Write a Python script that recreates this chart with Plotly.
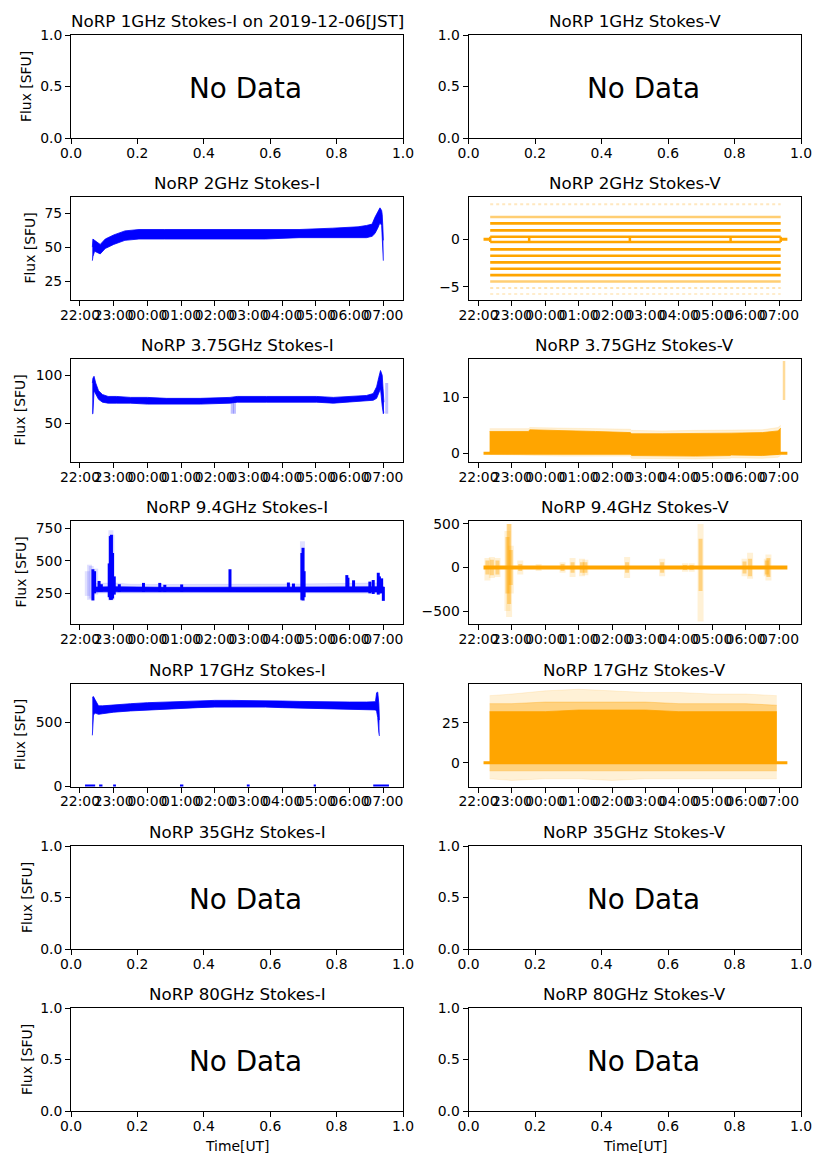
import plotly.graph_objects as go

# page is shown with the browser's default 8px body margin -> lay out in page pixels
PAGE_W, PAGE_H = 827, 1169
OFF = 8
FW, FH = PAGE_W - 2 * OFF, PAGE_H - 2 * OFF
FONT = "DejaVu Sans"
BLUE = "#0000ff"
BLUE_L = "rgba(0,0,255,0.25)"
BLUE_XL = "rgba(0,0,255,0.12)"
ORANGE = "#ffa500"
ORANGE_L = "rgba(255,165,0,0.40)"
ORANGE_XL = "rgba(255,165,0,0.16)"

# ---------------- titles / labels ----------------
TITLES = [
    "NoRP 1GHz Stokes-I on 2019-12-06[JST]", "NoRP 1GHz Stokes-V",
    "NoRP 2GHz Stokes-I", "NoRP 2GHz Stokes-V",
    "NoRP 3.75GHz Stokes-I", "NoRP 3.75GHz Stokes-V",
    "NoRP 9.4GHz Stokes-I", "NoRP 9.4GHz Stokes-V",
    "NoRP 17GHz Stokes-I", "NoRP 17GHz Stokes-V",
    "NoRP 35GHz Stokes-I", "NoRP 35GHz Stokes-V",
    "NoRP 80GHz Stokes-I", "NoRP 80GHz Stokes-V",
]
NO_DATA_PANELS = [1, 2, 11, 12, 13, 14]
HOUR_LABELS = ["22:00", "23:00", "00:00", "01:00", "02:00", "03:00",
               "04:00", "05:00", "06:00", "07:00"]
UNIT_TICKS_X = [0.0, 0.2, 0.4, 0.6, 0.8, 1.0]
UNIT_TICKS_Y = [0.0, 0.5, 1.0]

# ---------------- 2 GHz Stokes-I (envelope of the dense scatter) ----------------
t_2i = ["22:22", "22:23", "22:26", "22:30", "22:36", "22:45", "23:00", "23:20",
        "23:45", "00:30", "01:30", "02:30", "03:30", "04:30", "05:30", "06:15",
        "06:30", "06:40", "06:45", "06:50", "06:54", "06:57", "06:58", "06:59", "07:00"]
lo_2i = [40, 43, 47, 46, 45, 49, 52, 55, 56, 56, 56, 56, 56, 57, 57, 57,
         57, 58, 60, 64, 68, 66, 58, 48, 40]
hi_2i = [50, 56, 55, 54, 52, 56, 59, 62, 63, 63, 63, 63, 63, 63, 64, 65,
         66, 67, 72, 76, 79, 77, 74, 66, 55]

# ---------------- 2 GHz Stokes-V (quantised levels) ----------------
levels_2v = [3.70, 2.36, 1.69, 0.95, 0.28, -0.28, -1.06, -1.73, -2.43, -3.10,
             -3.77, -4.44, -5.14, -5.77]
level_alpha_2v = [0.25, 0.55, 1, 1, 1, 1, 1, 1, 1, 1, 1, 0.55, 0.3, 0.2]
level_span_2v = ["22:21", "07:03"]
zero_2v_t = ["22:09", "22:21", None, "07:03", "07:15"]
connect_2v_t = ["22:21", "23:31", "02:32", "05:33", "07:03"]

# ---------------- 3.75 GHz Stokes-I ----------------
t_375i = ["22:22", "22:23", "22:25", "22:28", "22:33", "22:40", "22:50", "23:05",
          "23:30", "00:00", "00:34", "01:34", "02:27", "02:40", "03:32", "04:30",
          "05:01", "05:31", "06:01", "06:30", "06:42", "06:48", "06:52", "06:55",
          "06:58", "07:00", "07:01"]
lo_375i = [60, 60, 84, 80, 75, 72, 71, 71, 71, 70, 70, 70, 71, 72, 72, 72,
           72, 71, 72, 73, 74, 76, 82, 86, 68, 60, 62]
hi_375i = [92, 97, 99, 92, 84, 80, 78, 78, 77, 77, 76, 76, 77, 78, 78, 78,
           78, 77, 78, 79, 81, 88, 98, 105, 100, 80, 72]
spike_375i_t = ["02:31", "02:35", "07:06"]
spike_375i_lo = [60, 60, 60]
spike_375i_hi = [72, 74, 92]

# ---------------- 3.75 GHz Stokes-V ----------------
t_375v = ["22:20", "23:00", "23:30", "23:32", "00:30", "01:30", "02:33", "02:35",
          "03:30", "04:30", "05:32", "05:34", "06:30", "06:58", "07:03"]
lo_375v = [0.2, 0.2, 0.2, 0.1, 0.0, 0.0, 0.0, -0.4, -0.5, -0.5, -0.4, -0.3, -0.4, -0.2, 0.0]
hi_375v = [3.9, 3.9, 3.9, 4.2, 4.1, 3.9, 3.7, 3.5, 3.5, 3.5, 3.5, 3.6, 3.7, 4.0, 4.5]
lo_375v_light = [-0.2, -0.3, -0.3, -0.4, -0.5, -0.5, -0.5, -0.9, -1.0, -1.0, -0.9, -0.8, -0.9, -0.7, -0.4]
hi_375v_light = [4.4, 4.4, 4.4, 4.6, 4.5, 4.4, 4.3, 4.1, 4.0, 4.1, 4.1, 4.1, 4.2, 4.6, 5.0]
zero_v_span = ["22:09", "07:15"]
spike_375v_t = ["07:09"]
spike_375v_lo = [9.5]
spike_375v_hi = [16.5]

# ---------------- 9.4 GHz Stokes-I ----------------
t_94i = ["22:23", "22:30", "23:00", "23:30", "00:30", "01:30", "02:30", "03:30",
         "04:30", "05:30", "06:30", "07:00"]
lo_94i = [260, 262, 262, 262, 262, 262, 263, 263, 263, 263, 262, 260]
hi_94i = [300, 298, 300, 298, 296, 296, 296, 297, 298, 300, 300, 300]
lo_94i_light = [250, 252, 252, 253, 254, 254, 254, 254, 254, 254, 252, 250]
hi_94i_light = [330, 325, 330, 320, 318, 318, 318, 320, 322, 325, 330, 330]
spike_94i_t = ["22:23", "22:26", "22:34", "22:38", "22:52", "22:54", "22:56", "22:58",
               "23:01", "23:10", "23:53", "00:22", "00:31", "01:01", "02:27", "04:11",
               "04:20", "04:35", "04:37", "04:39", "05:55", "05:57", "06:07", "06:36",
               "06:42", "06:51", "06:53", "06:57", "07:00"]
spike_94i_lo = [195, 250, 262, 262, 220, 200, 200, 210, 240, 260, 260, 260, 260, 260,
                262, 260, 260, 200, 195, 220, 262, 262, 262, 250, 245, 240, 250, 250, 192]
spike_94i_hi = [435, 420, 345, 320, 480, 690, 700, 560, 380, 320, 330, 330, 315, 318,
                435, 333, 325, 560, 600, 420, 390, 370, 350, 340, 352, 408, 380, 365, 300]
sparse_94i_t = ["22:13", "22:17", "22:20", "22:28", "22:55", "22:57", "04:36"]
sparse_94i_lo = [230, 200, 210, 240, 195, 200, 190]
sparse_94i_hi = [420, 470, 460, 440, 735, 700, 650]

# ---------------- 9.4 GHz Stokes-V ----------------
spike_94v_t = ["22:16", "22:24", "22:34", "22:52", "22:55", "22:58", "23:15", "23:48",
               "00:31", "00:49", "01:06", "01:12", "02:27", "03:30", "04:11", "04:23",
               "04:39", "05:58", "06:08", "06:38", "06:41"]
spike_94v_lo = [-80, -90, -80, -300, -420, -200, -40, -20, -40, -60, -60, -60, -60, -60,
                -30, -30, -270, -70, -100, -80, -110]
spike_94v_hi = [80, 90, 80, 350, 500, 200, 40, 20, 40, 60, 60, 60, 60, 60, 30, 30, 330,
                70, 100, 80, 110]
sparse_94v_lo = [-150, -120, -110, -500, -570, -300, -80, -40, -60, -110, -100, -90, -120,
                 -100, -50, -50, -620, -100, -130, -100, -150]
sparse_94v_hi = [110, 120, 110, 420, 500, 250, 80, 40, 60, 110, 100, 90, 120, 100, 50,
                 50, 500, 100, 170, 100, 150]

# ---------------- 17 GHz Stokes-I ----------------
t_17i = ["22:22", "22:24", "22:27", "22:33", "22:40", "22:50", "23:00", "23:30", "00:00",
         "00:30", "01:00", "01:30", "02:00", "02:30", "03:00", "03:30", "04:00", "04:30",
         "05:00", "05:30", "06:00", "06:30", "06:46", "06:48", "06:50", "06:52", "06:53"]
lo_17i = [400, 560, 575, 565, 570, 578, 582, 592, 600, 605, 612, 618, 622, 623, 623,
          622, 618, 615, 613, 610, 608, 605, 600, 590, 540, 420, 395]
hi_17i = [700, 705, 680, 632, 632, 636, 640, 649, 657, 662, 668, 672, 675, 675, 675,
          673, 670, 667, 664, 662, 662, 662, 665, 735, 740, 650, 520]
zero_17i_start = ["22:09", "22:34", "22:59", "00:58", "02:57", "04:56", "06:42"]
zero_17i_end = ["22:27", "22:40", "23:04", "01:04", "03:02", "05:00", "07:10"]

# ---------------- 17 GHz Stokes-V ----------------
t_17v = ["22:20", "23:00", "00:00", "01:00", "02:00", "03:00", "04:00", "05:00", "06:00", "06:56"]
lo_17v = [0, 0, 0, 0, 0, 0, 0, 0, 0, 0]
hi_17v = [32, 32, 32, 33, 33, 33, 32, 32, 32, 32]
lo_17v_light = [-5, -5, -5, -5, -5, -5, -5, -5, -5, -5]
hi_17v_light = [37, 37, 38, 38, 38, 38, 37, 37, 37, 36]
lo_17v_sparse = [-10, -11, -10, -10, -11, -10, -10, -10, -10, -10]
hi_17v_sparse = [42, 43, 45, 46, 45, 44, 44, 43, 43, 42]

# ---------------- axis ranges / ticks ----------------
X_RANGE_LEFT = ["2019-12-05 21:44:00", "2019-12-06 07:35:00"]
X_RANGE_RIGHT = ["2019-12-05 21:42:00", "2019-12-06 07:39:30"]
Y_RANGES = {3: [11, 87], 4: [-6.4, 4.47], 5: [9.7, 117], 6: [-1.55, 16.84],
            7: [14, 806], 8: [-649, 534], 9: [-3, 808], 10: [-14.8, 49.6]}
Y_TICKS = {3: [25, 50, 75], 4: [-5, 0], 5: [50, 100], 6: [0, 10],
           7: [250, 500, 750], 8: [-500, 0, 500], 9: [0, 500], 10: [0, 25]}

# ---------------- layout geometry (page pixels) ----------------
LEFT_X = [71, 403]
RIGHT_X = [468.5, 801]
ROW_TOPS = [35, 197, 359, 521, 683.5, 846, 1008]
AX_H = 103
YLABEL_X = [26.5, 30, 20, 20, 20, 26.5, 26.5]
XLABEL_Y = 1146


def px(x):
    return (x - OFF) / FW


def py(y):
    return 1 - (y - OFF) / FH


def ts(hm):
    if hm is None:
        return None
    h = int(hm[:2])
    day = "2019-12-05" if h >= 12 else "2019-12-06"
    return f"{day} {hm}:00"


def xr(i):
    return "x" if i == 1 else f"x{i}"


def yr(i):
    return "y" if i == 1 else f"y{i}"


fig = go.Figure()


def band(i, t, lo, hi, color):
    x = [ts(v) for v in t]
    fig.add_trace(go.Scatter(x=x, y=lo, mode="lines", line=dict(width=0.8, color=color),
                             xaxis=xr(i), yaxis=yr(i), showlegend=False, hoverinfo="skip"))
    fig.add_trace(go.Scatter(x=x, y=hi, mode="lines", line=dict(width=0.8, color=color),
                             fill="tonexty", fillcolor=color,
                             xaxis=xr(i), yaxis=yr(i), showlegend=False, hoverinfo="skip"))


def segs(i, t, lo, hi, color, width):
    xs, ys = [], []
    for tt, a, b in zip(t, lo, hi):
        xs += [ts(tt), ts(tt), None]
        ys += [a, b, None]
    fig.add_trace(go.Scatter(x=xs, y=ys, mode="lines", line=dict(width=width, color=color),
                             xaxis=xr(i), yaxis=yr(i), showlegend=False, hoverinfo="skip",
                             connectgaps=False))


def hline(i, t, val, color, width, dash="solid"):
    fig.add_trace(go.Scatter(x=[ts(v) for v in t], y=[None if v is None else val for v in t],
                             mode="lines", line=dict(width=width, color=color, dash=dash),
                             xaxis=xr(i), yaxis=yr(i), showlegend=False, hoverinfo="skip",
                             connectgaps=False))


# empty panels: invisible placeholder traces
for i in NO_DATA_PANELS:
    fig.add_trace(go.Scatter(x=[None], y=[None], mode="markers", xaxis=xr(i), yaxis=yr(i),
                             showlegend=False, hoverinfo="skip"))

# 2 GHz I
band(3, t_2i, lo_2i, hi_2i, BLUE)

# 2 GHz V
hline(4, zero_2v_t, 0, ORANGE, 3)
for lv, al in zip(levels_2v, level_alpha_2v):
    col = f"rgba(255,165,0,{al})"
    hline(4, level_span_2v, lv, col, 2.6 if al >= 0.5 else 2, "solid" if al >= 0.5 else "dot")
segs(4, connect_2v_t, [-0.28] * len(connect_2v_t), [0.28] * len(connect_2v_t), ORANGE, 2.5)

# 3.75 GHz I
band(5, t_375i, lo_375i, hi_375i, BLUE)
segs(5, spike_375i_t, spike_375i_lo, spike_375i_hi, BLUE_L, 3)

# 3.75 GHz V
hline(6, zero_v_span, 0, ORANGE, 3)
band(6, t_375v, lo_375v_light, hi_375v_light, ORANGE_XL)
band(6, t_375v, lo_375v, hi_375v, ORANGE)
segs(6, spike_375v_t, spike_375v_lo, spike_375v_hi, ORANGE_L, 2.5)

# 9.4 GHz I
band(7, t_94i, lo_94i_light, hi_94i_light, BLUE_XL)
segs(7, sparse_94i_t, sparse_94i_lo, sparse_94i_hi, BLUE_XL, 5)
band(7, t_94i, lo_94i, hi_94i, BLUE)
segs(7, spike_94i_t, spike_94i_lo, spike_94i_hi, BLUE, 3)

# 9.4 GHz V
segs(8, spike_94v_t, sparse_94v_lo, sparse_94v_hi, ORANGE_XL, 6)
segs(8, spike_94v_t, spike_94v_lo, spike_94v_hi, ORANGE_L, 4)
hline(8, zero_v_span, 0, ORANGE, 4)

# 17 GHz I
zx, zy = [], []
for a, b in zip(zero_17i_start, zero_17i_end):
    zx += [ts(a), ts(b), None]
    zy += [0, 0, None]
band(9, t_17i, lo_17i, hi_17i, BLUE)
fig.add_trace(go.Scatter(x=zx, y=zy, mode="lines", line=dict(width=3, color=BLUE),
                         xaxis="x9", yaxis="y9", showlegend=False, hoverinfo="skip"))

# 17 GHz V
hline(10, zero_v_span, 0, ORANGE, 3)
band(10, t_17v, lo_17v_sparse, hi_17v_sparse, ORANGE_XL)
band(10, t_17v, lo_17v_light, hi_17v_light, ORANGE_L)
band(10, t_17v, lo_17v, hi_17v, ORANGE)

# ---------------- axes ----------------
layout = dict(width=FW, height=FH, margin=dict(l=0, r=0, t=0, b=0, pad=0, autoexpand=False),
              paper_bgcolor="white", plot_bgcolor="white",
              font=dict(family=FONT, size=13.9, color="black"), showlegend=False)
annotations = []
hour_ticks = [ts(h) for h in HOUR_LABELS]

for i in range(1, 15):
    row = (i - 1) // 2
    col = (i - 1) % 2
    xd = LEFT_X if col == 0 else RIGHT_X
    top = ROW_TOPS[row]
    bot = top + AX_H
    common = dict(showline=True, linecolor="black", linewidth=1, mirror=True,
                  ticks="outside", ticklen=5, tickwidth=1, tickcolor="black",
                  showgrid=False, zeroline=False, tickangle=0, automargin=False,
                  tickfont=dict(family=FONT, size=13.9, color="black"))
    xa = dict(common, domain=[px(xd[0]), px(xd[1])], anchor=yr(i), ticklabelstandoff=-3)
    ya = dict(common, domain=[py(bot), py(top)], anchor=xr(i))
    if i in NO_DATA_PANELS:
        xa.update(type="linear", range=[0, 1], tickvals=UNIT_TICKS_X,
                  ticktext=[f"{v:.1f}" for v in UNIT_TICKS_X])
        ya.update(type="linear", range=[0, 1], tickvals=UNIT_TICKS_Y,
                  ticktext=[f"{v:.1f}" for v in UNIT_TICKS_Y])
        annotations.append(dict(xref=xr(i), yref=yr(i), x=0.35, y=0.5, yshift=-1.5,
                                text="No Data",
                                showarrow=False, xanchor="left", yanchor="middle",
                                font=dict(family=FONT, size=27.8, color="black")))
    else:
        xa.update(type="date", range=X_RANGE_LEFT if col == 0 else X_RANGE_RIGHT,
                  tickvals=hour_ticks, ticktext=HOUR_LABELS)
        ya.update(type="linear", range=Y_RANGES[i], tickvals=Y_TICKS[i])
    layout["xaxis" if i == 1 else f"xaxis{i}"] = xa
    layout["yaxis" if i == 1 else f"yaxis{i}"] = ya

    # subplot title
    annotations.append(dict(xref="paper", yref="paper", x=px((xd[0] + xd[1]) / 2),
                            y=py(top), yshift=2, text=TITLES[i - 1], showarrow=False,
                            xanchor="center", yanchor="bottom",
                            font=dict(family=FONT, size=16.7, color="black")))
    if col == 0:
        annotations.append(dict(xref="paper", yref="paper", x=px(YLABEL_X[row]),
                                y=py(top + AX_H / 2), text="Flux [SFU]",
                                textangle=-90, showarrow=False, xanchor="center",
                                yanchor="middle",
                                font=dict(family=FONT, size=13.9, color="black")))
    if row == 6:
        annotations.append(dict(xref="paper", yref="paper", x=px((xd[0] + xd[1]) / 2),
                                y=py(XLABEL_Y), text="Time[UT]", showarrow=False,
                                xanchor="center", yanchor="middle",
                                font=dict(family=FONT, size=13.9, color="black")))

layout["annotations"] = annotations
fig.update_layout(**layout)
fig.write_html("out.html")
